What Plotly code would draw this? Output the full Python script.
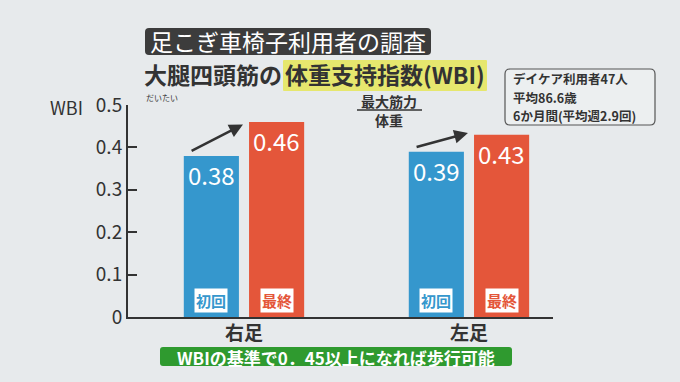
import plotly.graph_objects as go

categories = ["右足", "左足"]
initial_vals = [0.38, 0.39]
final_vals = [0.46, 0.43]
series_names = ["初回", "最終"]
y_ticks = [0, 0.1, 0.2, 0.3, 0.4, 0.5]
y_tick_labels = ["0", "0.1", "0.2", "0.3", "0.4", "0.5"]
info_lines = ["デイケア利用者47人", "平均86.6歳", "6か月間(平均週2.9回)"]

FONT = "Noto Sans CJK JP"
BLUE = "#3597cd"
RED = "#e4563a"
DARK = "#333333"
BG = "#e7eaec"

xs = list(range(len(categories)))
BW = 0.245
OFF_A, OFF_B = -0.268, 0.022

fig = go.Figure()
fig.add_trace(go.Bar(x=xs, y=initial_vals, name=series_names[0], marker_color=BLUE,
                     width=BW, offset=OFF_A, marker_line_width=0))
fig.add_trace(go.Bar(x=xs, y=final_vals, name=series_names[1], marker_color=RED,
                     width=BW, offset=OFF_B, marker_line_width=0))

ann = []
for i, (a, b) in enumerate(zip(initial_vals, final_vals)):
    ann.append(dict(x=i + OFF_A + BW / 2, y=a, yshift=-19, text=f"{a:.2f}", showarrow=False,
                    font=dict(family=FONT, size=24, color="white"), xref="x", yref="y"))
    ann.append(dict(x=i + OFF_B + BW / 2, y=b, yshift=-19, text=f"{b:.2f}", showarrow=False,
                    font=dict(family=FONT, size=24, color="white"), xref="x", yref="y"))
    ann.append(dict(x=i + OFF_A + BW / 2, y=0, yshift=17, text=f"<b>{series_names[0]}</b>", showarrow=False,
                    font=dict(family=FONT, size=15, color=BLUE), bgcolor="white", borderpad=1,
                    xref="x", yref="y"))
    ann.append(dict(x=i + OFF_B + BW / 2, y=0, yshift=17, text=f"<b>{series_names[1]}</b>", showarrow=False,
                    font=dict(family=FONT, size=15, color=RED), bgcolor="white", borderpad=1,
                    xref="x", yref="y"))
    ann.append(dict(x=i - 0.005, y=b - 0.006 if b > 0.44 else b + 0.004, ax=i - 0.24, ay=a + 0.01,
                    xref="x", yref="y", axref="x", ayref="y", showarrow=True, text="",
                    arrowhead=2, arrowsize=1.1, arrowwidth=2.5, arrowcolor=DARK))
    ann.append(dict(x=i, y=0, yshift=-14, text=f"<b>{categories[i]}</b>", showarrow=False, borderpad=0,
                    font=dict(family=FONT, size=19, color=DARK), xref="x", yref="y", yanchor="middle"))


def px(xp, yp):
    return (xp - 128) / 425, (317 - yp) / 212


def text_at(xp, yp, text, size, color=DARK, xanchor="center"):
    tx, ty = px(xp, yp)
    ann.append(dict(xref="paper", yref="paper", x=tx, y=ty, text=text, showarrow=False, borderpad=0,
                    font=dict(family=FONT, size=size, color=color), xanchor=xanchor, yanchor="middle"))


def rrect(x0, y0, x1, y1, r, **kw):
    def p(x, y):
        a, b = px(x, y)
        return f"{a:.5f},{b:.5f}"
    path = (f"M{p(x0 + r, y0)} L{p(x1 - r, y0)} Q{p(x1, y0)} {p(x1, y0 + r)} "
            f"L{p(x1, y1 - r)} Q{p(x1, y1)} {p(x1 - r, y1)} L{p(x0 + r, y1)} "
            f"Q{p(x0, y1)} {p(x0, y1 - r)} L{p(x0, y0 + r)} Q{p(x0, y0)} {p(x0 + r, y0)} Z")
    return dict(type="path", xref="paper", yref="paper", path=path, **kw)


shapes = [
    rrect(145, 28, 431, 55, 4, fillcolor="#3c3c3c", line_width=0, layer="above"),
    rrect(283, 60, 487, 91, 1, fillcolor="#e6e76e", line_width=0, layer="below"),
    rrect(505, 69, 655, 125, 5, fillcolor="rgba(240,242,243,0.6)", line=dict(color="#555555", width=1.2)),
    rrect(160, 347, 512, 366, 3, fillcolor="#2f9a2f", line_width=0),
]
lx0, ly = px(357, 110)
lx1, _ = px(422, 110)
shapes.append(dict(type="line", xref="paper", yref="paper", x0=lx0, x1=lx1, y0=ly, y1=ly,
                   line=dict(color=DARK, width=1.5)))

text_at(66, 107, "WBI", 18, xanchor="center")
text_at(288, 41, "足こぎ車椅子利用者の調査", 23, color="white")
text_at(283, 74, "<b>大腿四頭筋の</b>", 23, xanchor="right")
text_at(385, 74, "<b>体重支持指数(WBI)</b>", 23)
text_at(162, 97, "だいたい", 8)
text_at(389, 100.5, "<b>最大筋力</b>", 14)
text_at(389, 120, "<b>体重</b>", 14)
for k, line in enumerate(info_lines):
    text_at(512, 79 + 18 * k, f"<b>{line}</b>", 12.5, xanchor="left")
text_at(336, 357.5, "<b>WBIの基準で0．45以上になれば歩行可能</b>", 17, color="white")

fig.update_layout(
    width=680, height=382,
    margin=dict(l=128, r=127, t=105, b=65),
    paper_bgcolor=BG, plot_bgcolor=BG,
    showlegend=False,
    annotations=ann,
    shapes=shapes,
    xaxis=dict(range=[-0.516, 1.373], tickvals=xs, showticklabels=False,
               showline=True, linecolor=DARK, linewidth=2, ticks="", showgrid=False, zeroline=False,
               fixedrange=True),
    yaxis=dict(range=[0, 0.5], tickvals=y_ticks, ticktext=y_tick_labels,
               showline=True, linecolor=DARK, linewidth=2, ticks="inside", ticklen=9, tickwidth=2,
               tickcolor=DARK, showgrid=False, zeroline=False,
               tickfont=dict(family=FONT, size=19, color=DARK), fixedrange=True),
)

fig.write_html("out.html", config={"displayModeBar": False},
               post_script="document.body.style.margin='0';document.body.style.overflow='hidden';")
